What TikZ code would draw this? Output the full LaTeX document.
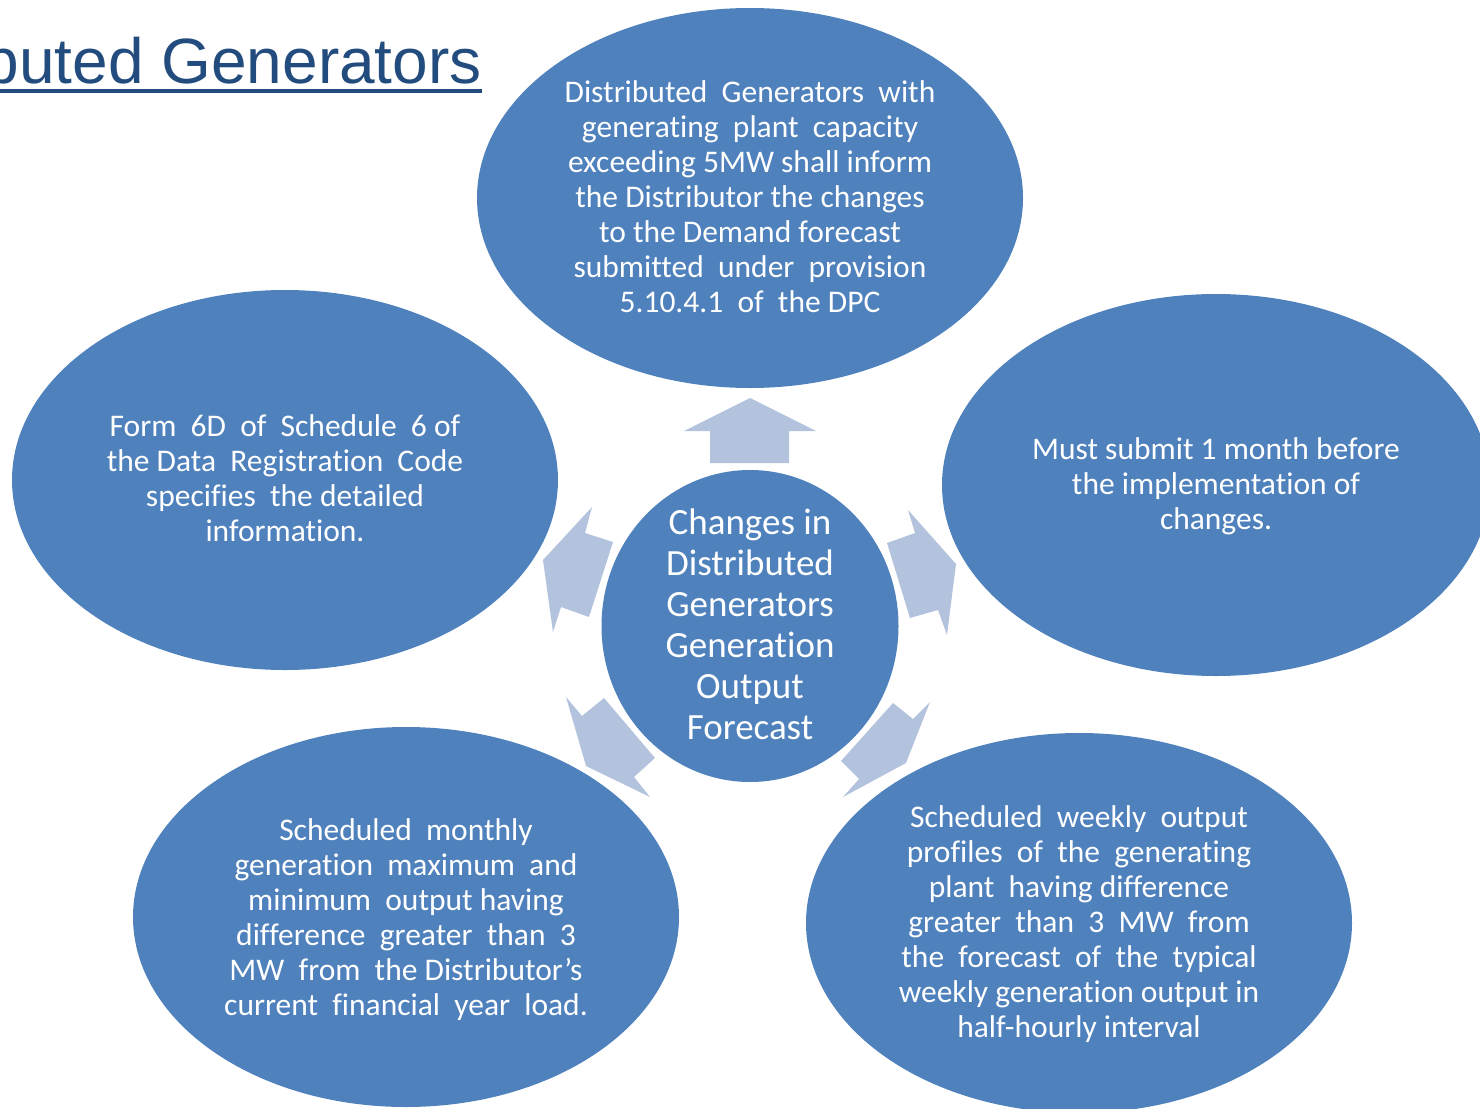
\documentclass[tikz,border=0pt]{standalone}
\usepackage{fontspec}
\setmainfont{Carlito}[Ligatures={NoCommon}]
\newfontfamily\titlefont{Liberation Sans}
\usetikzlibrary{shapes.geometric}
\definecolor{blobblue}{HTML}{4F81BD}
\definecolor{arrowblue}{HTML}{B3C2DD}
\definecolor{titleblue}{HTML}{234C7E}
\begin{document}
\begin{tikzpicture}[x=1pt,y=-1pt,
  blob/.style={ellipse, fill=blobblue, draw=none, inner sep=0pt, minimum width=546pt, minimum height=380pt},
  blobtext/.style={text=white, align=center, inner sep=0pt, font=\fontsize{31.5}{35}\selectfont},
  hubtext/.style={text=white, align=center, inner sep=0pt, font=\fontsize{37}{41}\selectfont},
  blockarrow/.style={fill=arrowblue, draw=none}]
\useasboundingbox (0,0) rectangle (1480,1108);
\clip (0,0) rectangle (1480,1108);

% title
\node[anchor=base east, inner sep=0pt, text=titleblue, font=\titlefont\fontsize{64}{70}\selectfont] (title) at (482,83) {Distributed Generators};
\draw[titleblue, line width=4pt] ([yshift=-8pt]title.base west) -- ([yshift=-8pt]title.base east);

% ellipses
\node[blob] (top) at (750,198) {};
\node[blob, minimum width=548pt, minimum height=382pt] (right) at (1216,485) {};
\node[blob] (left) at (285,480) {};
\node[blob] (botleft) at (406,917) {};
\node[blob] (botright) at (1079,923) {};
\node[blob, minimum width=297pt, minimum height=312pt] (hub) at (750,626) {};

% block arrows
\fill[blockarrow] (750,398) -- (816,431) -- (789,431) -- (789,463) -- (710,463) -- (710,431) -- (684,431) -- cycle;
\fill[blockarrow] (956,564) -- (947,635) -- (938,610) -- (910,618) -- (887,543) -- (915,533) -- (908,510) -- cycle;
\fill[blockarrow] (543,560) -- (592,507) -- (585,533) -- (613,542) -- (589,617) -- (561,607) -- (553,632) -- cycle;
\fill[blockarrow] (586,766) -- (566,697) -- (582,716) -- (604,698) -- (655,758) -- (634,777) -- (650,797) -- cycle;
\fill[blockarrow] (906,763) -- (843,797) -- (859,779) -- (841,761) -- (893,703) -- (913,719) -- (930,702) -- cycle;

% texts
\node[hubtext] (thub) at ([yshift=2pt]hub.center) {Changes in\\Distributed\\Generators\\Generation\\Output\\Forecast};
\node[blobtext] (ttop) at ([yshift=1pt]top.center) {Distributed~ Generators~ with\\generating~ plant~ capacity\\exceeding 5MW shall inform\\the Distributor the changes\\to the Demand forecast\\submitted~ under~ provision\\5.10.4.1~ of~ the DPC};
\node[blobtext] (tright) at ([yshift=-1pt]right.center) {Must submit 1 month before\\the implementation of\\changes.};
\node[blobtext] (tleft) at ([yshift=2pt]left.center) {Form~ 6D~ of~ Schedule~ 6 of\\the Data~ Registration~ Code\\specifies~ the detailed\\information.};
\node[blobtext] (tbotleft) at ([yshift=-3pt]botleft.center) {Scheduled~ monthly\\generation~ maximum~ and\\minimum~ output having\\difference~ greater~ than~ 3\\MW~ from~ the Distributor’s\\current~ financial~ year~ load.};
\node[blobtext] (tbotright) at ([yshift=-1pt]botright.center) {Scheduled~ weekly~ output\\profiles~ of~ the~ generating\\plant~ having difference\\greater~ than~ 3~ MW~ from\\the~ forecast~ of~ the~ typical\\weekly generation output in\\half-hourly interval};
\end{tikzpicture}
\end{document}
